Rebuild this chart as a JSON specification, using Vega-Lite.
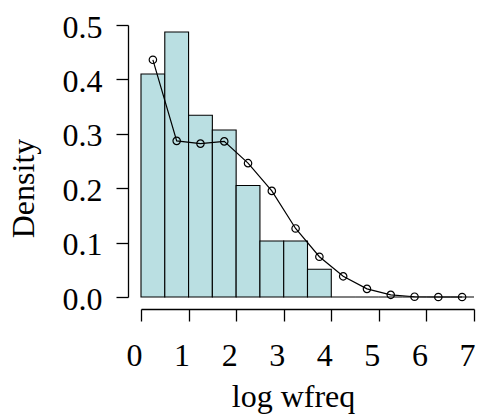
{
  "$schema": "https://vega.github.io/schema/vega-lite/v6.json",
  "autosize": "none",
  "width": 333,
  "height": 272,
  "padding": {"left": 141, "top": 25, "right": 3, "bottom": 119},
  "background": "white",
  "config": {
    "view": {"stroke": null},
    "font": "Liberation Serif",
    "axis": {
      "grid": false,
      "domainColor": "black",
      "tickColor": "black",
      "labelColor": "black",
      "titleColor": "black",
      "labelFont": "Liberation Serif",
      "titleFont": "Liberation Serif",
      "labelFontSize": 32,
      "titleFontSize": 32,
      "titleFontWeight": "normal",
      "tickSize": 12,
      "domainWidth": 1.3,
      "tickWidth": 1.3
    }
  },
  "datasets": {
    "hist": [
      {"bin_start": 0.0, "bin_end": 0.5, "density": 0.410},
      {"bin_start": 0.5, "bin_end": 1.0, "density": 0.487},
      {"bin_start": 1.0, "bin_end": 1.5, "density": 0.334},
      {"bin_start": 1.5, "bin_end": 2.0, "density": 0.307},
      {"bin_start": 2.0, "bin_end": 2.5, "density": 0.205},
      {"bin_start": 2.5, "bin_end": 3.0, "density": 0.103},
      {"bin_start": 3.0, "bin_end": 3.5, "density": 0.103},
      {"bin_start": 3.5, "bin_end": 4.0, "density": 0.051},
      {"bin_start": 4.0, "bin_end": 4.5, "density": 0},
      {"bin_start": 4.5, "bin_end": 5.0, "density": 0},
      {"bin_start": 5.0, "bin_end": 5.5, "density": 0},
      {"bin_start": 5.5, "bin_end": 6.0, "density": 0},
      {"bin_start": 6.0, "bin_end": 6.5, "density": 0},
      {"bin_start": 6.5, "bin_end": 7.0, "density": 0}
    ],
    "dens": [
      {"x": 0.25, "y": 0.436},
      {"x": 0.75, "y": 0.287},
      {"x": 1.25, "y": 0.282},
      {"x": 1.75, "y": 0.286},
      {"x": 2.25, "y": 0.246},
      {"x": 2.75, "y": 0.195},
      {"x": 3.25, "y": 0.126},
      {"x": 3.75, "y": 0.074},
      {"x": 4.25, "y": 0.038},
      {"x": 4.75, "y": 0.015},
      {"x": 5.25, "y": 0.004},
      {"x": 5.75, "y": 0.0005},
      {"x": 6.25, "y": 0.0},
      {"x": 6.75, "y": 0.0}
    ]
  },
  "layer": [
    {
      "data": {"name": "hist"},
      "mark": {"type": "rect", "fill": "#BADFE2", "stroke": "black", "strokeWidth": 1.1},
      "encoding": {
        "x": {
          "field": "bin_start", "type": "quantitative",
          "scale": {"domain": [0, 7], "nice": false, "zero": false},
          "axis": {
            "values": [0, 1, 2, 3, 4, 5, 6, 7], "format": "d",
            "offset": 12, "labelPadding": 19, "labelFlush": false, "labelOffset": -7,
            "title": "log wfreq", "titleX": 152, "titleY": 97,
            "titleBaseline": "alphabetic", "titleAnchor": null, "titleAlign": "center"
          }
        },
        "x2": {"field": "bin_end"},
        "y": {
          "field": "density", "type": "quantitative",
          "scale": {"domain": [0, 0.5], "nice": false},
          "axis": {
            "values": [0, 0.1, 0.2, 0.3, 0.4, 0.5], "format": ".1f",
            "offset": 13, "labelPadding": 14, "labelFlush": false, "labelOffset": 2,
            "title": "Density", "titleX": -95, "titleY": 163,
            "titleAngle": 270, "titleBaseline": "alphabetic", "titleAlign": "center", "titleAnchor": null
          }
        },
        "y2": {"datum": 0}
      }
    },
    {
      "data": {"name": "dens"},
      "mark": {"type": "line", "color": "black", "strokeWidth": 1.2},
      "encoding": {
        "x": {"field": "x", "type": "quantitative"},
        "y": {"field": "y", "type": "quantitative"}
      }
    },
    {
      "data": {"name": "dens"},
      "mark": {"type": "point", "shape": "circle", "filled": false, "color": "black", "size": 55, "strokeWidth": 1.2, "opacity": 1},
      "encoding": {
        "x": {"field": "x", "type": "quantitative"},
        "y": {"field": "y", "type": "quantitative"}
      }
    }
  ]
}
